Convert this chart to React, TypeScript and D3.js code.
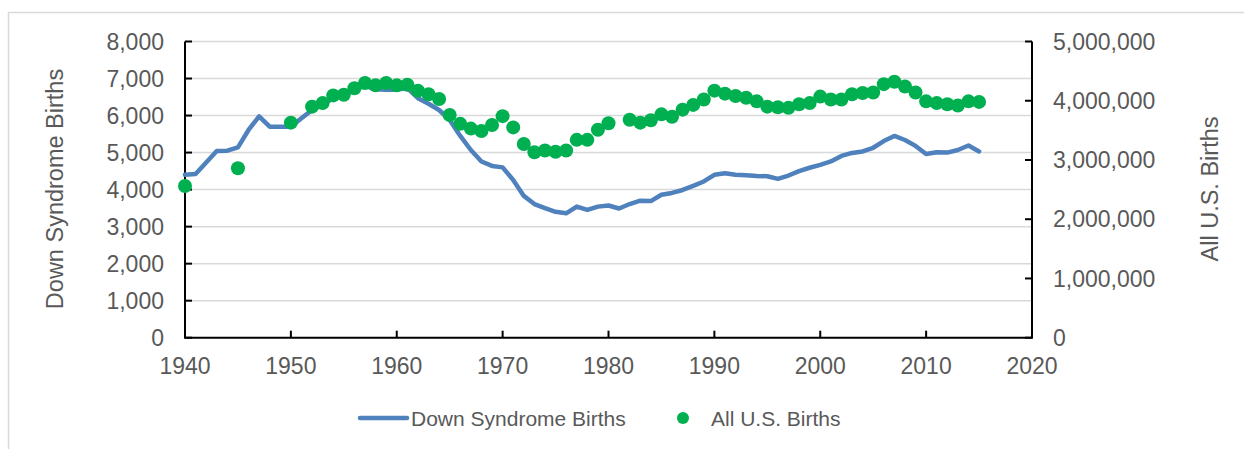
import React from 'react';
import * as d3 from 'd3';

// Down syndrome births per year (left axis)
const dsYears = d3.range(1940, 2016);
const dsBirths = [
  4400, 4420, 4730, 5040, 5050, 5140, 5610, 5980, 5700, 5700,
  5700, 5930, 6150, 6290, 6470, 6560, 6710, 6800, 6710, 6700,
  6700, 6740, 6470, 6320, 6150, 5880, 5450, 5070, 4760, 4640,
  4600, 4260, 3830, 3610, 3500, 3400, 3360, 3540, 3450, 3540,
  3570, 3490, 3610, 3700, 3690, 3860, 3910, 3990, 4100, 4220,
  4400, 4440, 4400, 4390, 4370, 4360, 4290, 4380, 4500, 4590,
  4670, 4760, 4910, 4990, 5030, 5130, 5310, 5450, 5340, 5180,
  4960, 5010, 5000, 5070, 5190, 5030,
];

// All U.S. births (right axis), some years are missing
const usYears = [
  1940, 1945, 1950, 1952, 1953, 1954, 1955, 1956, 1957, 1958, 1959,
  1960, 1961, 1962, 1963, 1964, 1965, 1966, 1967, 1968, 1969,
  1970, 1971, 1972, 1973, 1974, 1975, 1976, 1977, 1978, 1979,
  1980, 1982, 1983, 1984, 1985, 1986, 1987, 1988, 1989,
  1990, 1991, 1992, 1993, 1994, 1995, 1996, 1997, 1998, 1999,
  2000, 2001, 2002, 2003, 2004, 2005, 2006, 2007, 2008, 2009,
  2010, 2011, 2012, 2013, 2014, 2015,
];
const usBirths = [
  2560000, 2860000, 3630000, 3900000, 3960000, 4090000, 4100000, 4210000, 4300000, 4260000, 4300000,
  4260000, 4270000, 4170000, 4110000, 4030000, 3760000, 3610000, 3530000, 3490000, 3590000,
  3740000, 3550000, 3270000, 3130000, 3160000, 3140000, 3160000, 3340000, 3340000, 3510000,
  3620000, 3680000, 3630000, 3670000, 3770000, 3730000, 3850000, 3930000, 4020000,
  4170000, 4120000, 4080000, 4050000, 3990000, 3900000, 3890000, 3880000, 3940000, 3960000,
  4070000, 4020000, 4020000, 4110000, 4130000, 4140000, 4280000, 4320000, 4240000, 4140000,
  3990000, 3960000, 3940000, 3920000, 3990000, 3980000,
];

const xTicks = d3.range(1940, 2021, 10);
const leftTicks = d3.range(0, 8001, 1000);
const rightTicks = d3.range(0, 5000001, 1000000);

const leftTitle = 'Down Syndrome Births';
const rightTitle = 'All U.S. Births';

const W = 1244;
const H = 449;
const m = { left: 185, right: 1032, top: 41.5, bottom: 337.7 };
const textColor = '#595959';
const blue = '#4f81bd';
const green = '#00b050';
const font = '"Liberation Sans", Arial, sans-serif';

export default function App() {
  const x = d3.scaleLinear().domain([1940, 2020]).range([m.left, m.right]);
  const yL = d3.scaleLinear().domain([0, 8000]).range([m.bottom, m.top]);
  const yR = d3.scaleLinear().domain([0, 5000000]).range([m.bottom, m.top]);
  const fmt = d3.format(',');

  const line = d3.line<number>()
    .x((d, i) => x(dsYears[i]))
    .y(d => yL(d));

  return (
    <svg width={W} height={H} style={{ position: 'absolute', left: 0, top: 0 }} fontFamily={font}>
      <rect x={0} y={0} width={W} height={H} fill="#fff" />
      <rect x={8.5} y={12.5} width={W + 20} height={H + 20} fill="none" stroke="#d9d9d9" strokeWidth={1.5} />

      {/* gridlines */}
      {leftTicks.slice(1).map(t => (
        <line key={'g' + t} x1={m.left} x2={m.right} y1={yL(t)} y2={yL(t)} stroke="#d9d9d9" strokeWidth={1.5} />
      ))}

      {/* left axis */}
      <line x1={m.left} x2={m.left} y1={m.top} y2={m.bottom} stroke="#000" strokeWidth={2} />
      {leftTicks.map(t => (
        <g key={'l' + t}>
          <line x1={m.left} x2={m.left + 7} y1={yL(t)} y2={yL(t)} stroke="#000" strokeWidth={2} />
          <text x={164} y={yL(t)} dy="0.35em" textAnchor="end" fontSize={23} fill={textColor}>{fmt(t)}</text>
        </g>
      ))}

      {/* right axis */}
      <line x1={m.right} x2={m.right} y1={m.top} y2={m.bottom} stroke="#000" strokeWidth={2} />
      {rightTicks.map(t => (
        <g key={'r' + t}>
          <line x1={m.right - 7} x2={m.right} y1={yR(t)} y2={yR(t)} stroke="#000" strokeWidth={2} />
          <text x={1053} y={yR(t)} dy="0.35em" textAnchor="start" fontSize={23} fill={textColor}>{fmt(t)}</text>
        </g>
      ))}

      {/* bottom axis */}
      <line x1={m.left - 1} x2={m.right + 1} y1={m.bottom} y2={m.bottom} stroke="#000" strokeWidth={2} />
      {xTicks.map(t => (
        <g key={'x' + t}>
          <line x1={x(t)} x2={x(t)} y1={m.bottom - 7} y2={m.bottom} stroke="#000" strokeWidth={2} />
          <text x={x(t)} y={374} textAnchor="middle" fontSize={23} fill={textColor}>{t}</text>
        </g>
      ))}

      {/* axis titles */}
      <text transform={`translate(63,189) rotate(-90)`} textAnchor="middle" fontSize={23.5} fill={textColor}>{leftTitle}</text>
      <text transform={`translate(1218,189) rotate(-90)`} textAnchor="middle" fontSize={23.5} fill={textColor}>{rightTitle}</text>

      {/* series */}
      <path d={line(dsBirths) || ''} fill="none" stroke={blue} strokeWidth={4.5} strokeLinejoin="round" strokeLinecap="round" />
      {usBirths.map((v, i) => (
        <circle key={'c' + i} cx={x(usYears[i])} cy={yR(v)} r={7} fill={green} />
      ))}

      {/* legend */}
      <line x1={360} x2={407} y1={418} y2={418} stroke={blue} strokeWidth={4.5} strokeLinecap="round" />
      <text x={411} y={425.5} fontSize={21} fill={textColor}>{leftTitle}</text>
      <circle cx={683} cy={418} r={6} fill={green} />
      <text x={711} y={425.5} fontSize={21} fill={textColor}>{rightTitle}</text>
    </svg>
  );
}
